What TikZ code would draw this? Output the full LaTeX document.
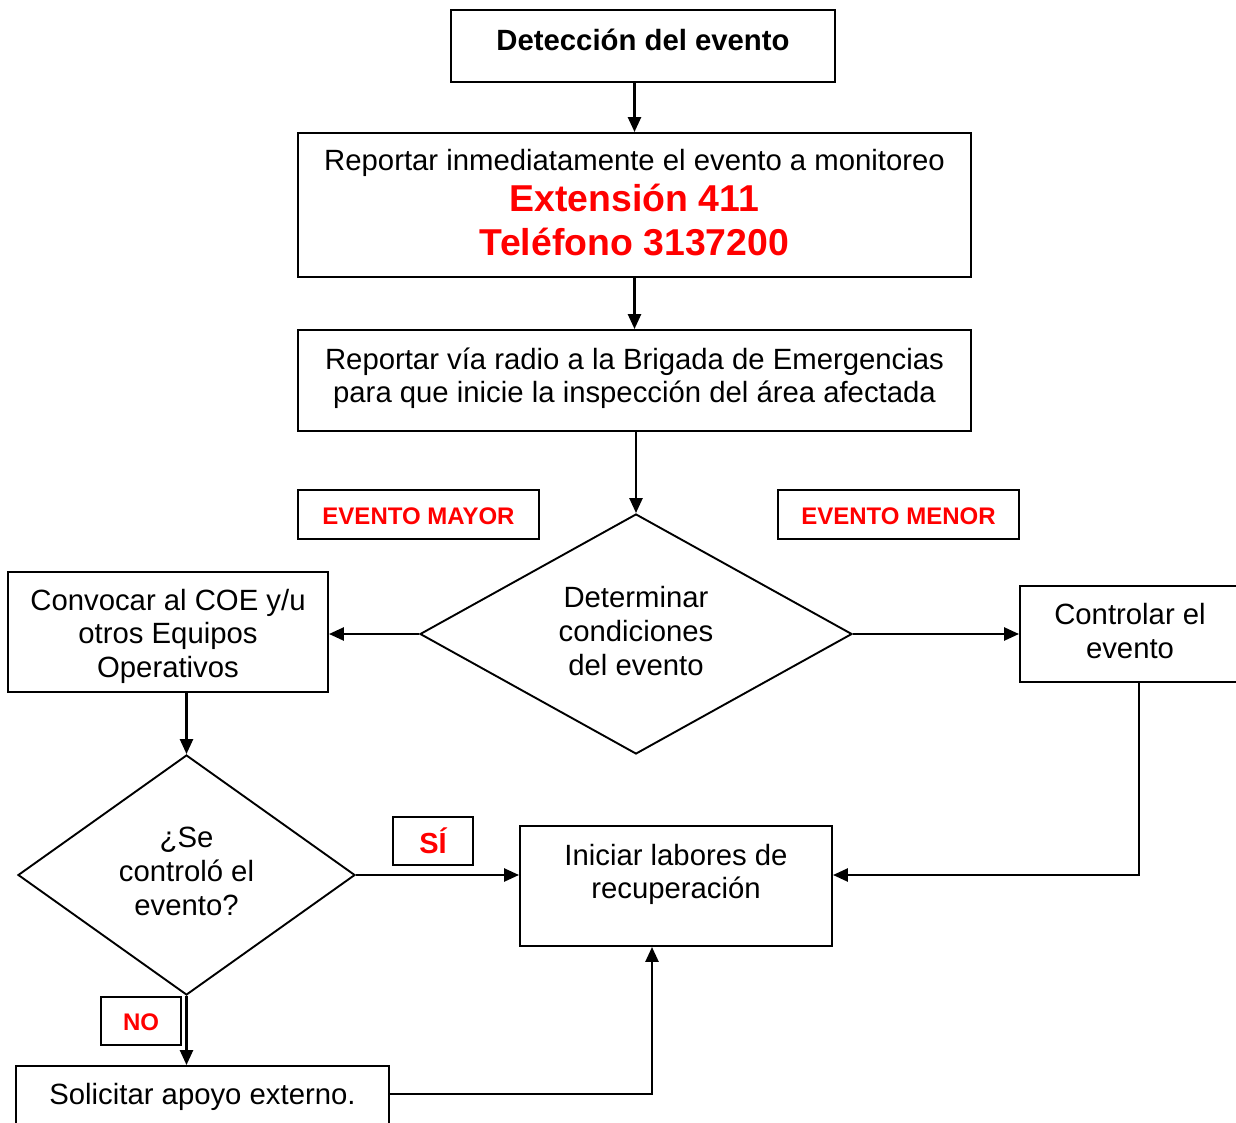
\documentclass[tikz,border=0pt]{standalone}
\usepackage{fontspec}
\setmainfont{Liberation Sans}
\usetikzlibrary{shapes.geometric,arrows.meta}
\begin{document}
\begin{tikzpicture}[x=1pt,y=-1pt,
 box/.style={draw,line width=1.9pt,inner sep=0pt,align=center,font=\fontsize{29.3}{33.5}\selectfont},
 dia/.style={diamond,draw,line width=1.9pt,inner sep=0pt,align=center,font=\fontsize{29.3}{34}\selectfont},
 tag/.style={draw,line width=1.9pt,inner sep=0pt,text=red,font=\bfseries\fontsize{24}{28}\selectfont},
 arr/.style={line width=2.5pt,-{Triangle[length=15pt,width=13pt]}}]
\useasboundingbox (0,0) rectangle (1236,1123);
\clip (0,0) rectangle (1236,1123);
\newcommand\redbig[1]{\textcolor{red}{\bfseries\fontsize{37.4}{44}\selectfont #1}}
\node[box,minimum width=384pt,minimum height=72pt,text height=10pt,text depth=0pt,font=\bfseries\fontsize{29.3}{33.5}\selectfont] (det) at (643,46) {Detección del evento};
\node[box,minimum width=673pt,minimum height=144pt,text height=102pt,text depth=0pt] (rep) at (634.5,205)
 {Reportar inmediatamente el evento a monitoreo\\[6.5pt]\redbig{Extensión 411}\\[10.5pt]\redbig{Teléfono 3137200}};
\node[box,minimum width=673pt,minimum height=101pt,text height=44pt,text depth=0pt] (rad) at (634.5,380.5)
 {Reportar vía radio a la Brigada de Emergencias\\para que inicie la inspección del área afectada};
\node[tag,minimum width=241pt,minimum height=49pt,text height=19pt,text depth=0pt] (may) at (418.5,514.5) {EVENTO MAYOR};
\node[tag,minimum width=241pt,minimum height=49pt,text height=19pt,text depth=0pt] (men) at (898.5,514.5) {EVENTO MENOR};
\node[dia,minimum width=432pt,minimum height=240pt,aspect=1.8,text height=82pt,text depth=0pt] (d1) at (636,634) {Determinar\\condiciones\\del evento};
\node[box,minimum width=320pt,minimum height=120pt,text height=90pt,text depth=0pt] (conv) at (168,632) {Convocar al COE y/u\\otros Equipos\\Operativos};
\node[box,minimum width=220pt,minimum height=96pt,text height=48pt,text depth=0pt] (ctrl) at (1130,634) {Controlar el\\evento};
\node[dia,minimum width=337pt,minimum height=240pt,aspect=1.4,text height=80pt,text depth=0pt] (d2) at (186.5,875) {¿Se\\controló el\\evento?};
\node[box,minimum width=312pt,minimum height=120pt,text height=25pt,text depth=0pt] (ini) at (676,886) {Iniciar labores de\\recuperación};
\node[tag,minimum width=80pt,minimum height=48pt,text height=24pt,text depth=0pt,font=\bfseries\fontsize{29}{33}\selectfont] (si) at (433,841) {SÍ};
\node[tag,minimum width=80pt,minimum height=48pt,text height=18pt,text depth=0pt] (no) at (141,1021) {NO};
\node[box,minimum width=373pt,minimum height=62pt,text height=14pt,text depth=0pt] (sol) at (202.5,1097) {Solicitar apoyo externo.};
\draw[arr] (det.south -| rep.north) -- (rep.north);
\draw[arr] (rep.south) -- (rad.north);
\draw[arr] (rad.south -| d1.north) -- (d1.north);
\draw[arr] (d1.west) -- (d1.west -| conv.east);
\draw[arr] (d1.east) -- (d1.east -| ctrl.west);
\draw[arr] (conv.south -| d2.north) -- (d2.north);
\draw[arr] (d2.east) -- (d2.east -| ini.west);
\draw[arr] ([xshift=9pt]ctrl.south) |- (d2.east -| ini.east);
\draw[arr] (d2.south) -- (d2.south |- sol.north);
\draw[arr] ([yshift=3pt]sol.east) -| ([xshift=-24pt]ini.south);
\end{tikzpicture}
\end{document}
